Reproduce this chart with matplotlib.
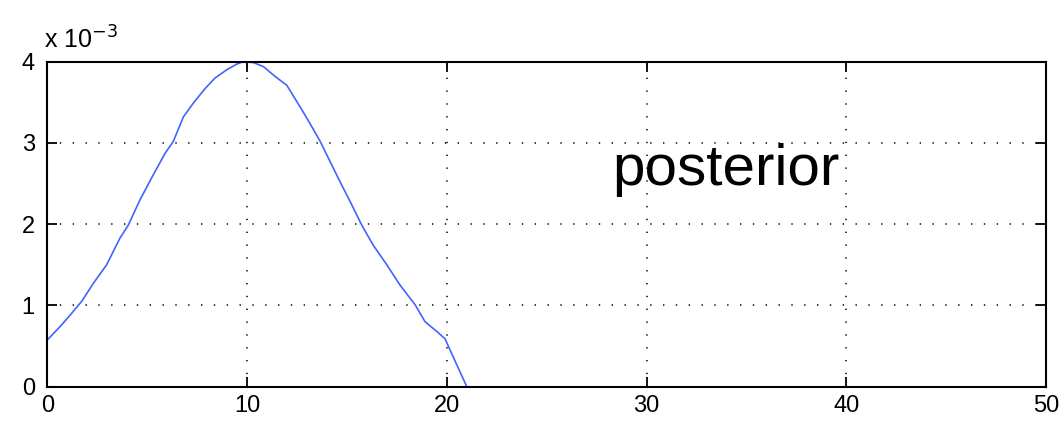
import matplotlib
matplotlib.use("Agg")
import matplotlib.pyplot as plt
from matplotlib.ticker import FuncFormatter

# values
xs = [0, 0.64, 1.14, 1.72, 2.30, 2.97, 3.64, 4.06, 4.64, 5.31, 5.89, 6.31, 6.81, 7.31,
      7.90, 8.40, 8.98, 9.48, 9.8, 10.32, 10.82, 11.40, 11.99, 12.74, 13.15, 13.66,
      14.16, 14.66, 15.16, 15.74, 16.32, 17.0, 17.66, 18.41, 18.91, 19.50, 19.91, 21.0]
ys = [0.575, 0.74, 0.88, 1.05, 1.27, 1.50, 1.83, 1.99, 2.30, 2.61, 2.87, 3.02, 3.32, 3.49,
      3.67, 3.80, 3.90, 3.97, 4.0, 3.99, 3.94, 3.82, 3.71, 3.41, 3.24, 3.02,
      2.77, 2.52, 2.28, 1.99, 1.74, 1.50, 1.25, 1.01, 0.80, 0.68, 0.59, 0.0]
ys = [v * 1e-3 for v in ys]
xticks = [0, 10, 20, 30, 40, 50]
yticks = [0, 1e-3, 2e-3, 3e-3, 4e-3]

plt.rcParams['font.family'] = ['Liberation Sans', 'DejaVu Sans']

fig = plt.figure(figsize=(10.63, 4.21), dpi=100)
ax = fig.add_axes([0.0445, 0.0815, 0.9395, 0.7719])

ax.plot(xs, ys, color="#4064ff", linewidth=1.2)

ax.set_xlim(0, 50)
ax.set_ylim(0, 4e-3)
ax.set_xticks(xticks)
ax.set_yticks(yticks)
ax.yaxis.set_major_formatter(FuncFormatter(lambda v, p: "%d" % round(v * 1e3)))

ax.grid(True, color="black", linestyle=(0, (0.9, 7.5)), linewidth=1.1)
ax.tick_params(direction="in", length=7.5, width=1.3, top=True, right=True,
               labelsize=17, colors="black")
ax.tick_params(axis="x", pad=6)
ax.tick_params(axis="y", pad=9)
for s in ax.spines.values():
    s.set_linewidth(1.5)

fig.text(0.041, 0.905, "x 10$^{-3}$", fontsize=18, ha="left", va="center")
ax.text(28.3, 2.48e-3, "posterior", fontsize=42, ha="left", va="baseline")

fig.savefig("out.png", dpi=100)
